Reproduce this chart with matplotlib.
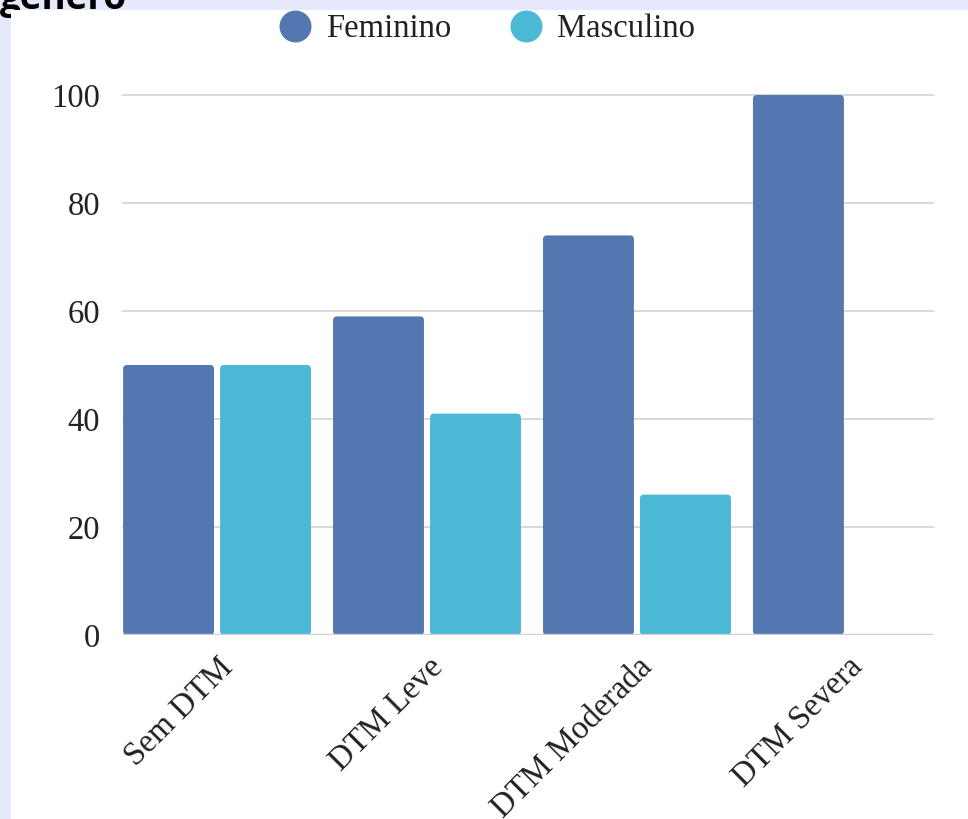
import matplotlib.pyplot as plt
import numpy as np
from matplotlib.lines import Line2D
from matplotlib.patches import Rectangle, FancyBboxPatch

categories = ['Sem DTM', 'DTM Leve', 'DTM Moderada', 'DTM Severa']
feminino = [50, 59, 74, 100]
masculino = [50, 41, 26, 0]
yticks = [0, 20, 40, 60, 80, 100]

c_fem = '#5377B0'
c_masc = '#4BB8D6'
text_color = '#222222'
fs = 23.5

plt.rcParams['font.family'] = ['Liberation Serif', 'DejaVu Serif']

W, H = 968, 819
fig = plt.figure(figsize=(W / 100, H / 100), dpi=100, facecolor='#E6E8FB')

# heading that sits behind the white card
fig.text(0.0, 1 - 9 / H, 'gênero', fontsize=26.5, fontweight='bold',
         family=['Open Sans', 'DejaVu Sans'], color='black',
         ha='left', va='baseline', zorder=0)
card = Rectangle((11 / W, 0), 1 - 11 / W, 1 - 10 / H,
                 transform=fig.transFigure, facecolor='white',
                 edgecolor='none', zorder=1)
fig.patches.append(card)

ax = fig.add_axes([123 / W, 1 - 635 / H, (933 - 123) / W, (635 - 95) / H])
ax.set_zorder(2)
ax.set_facecolor('none')

x = np.arange(len(categories))
width = 0.433
off = 0.231
xlim = (-0.448, 3.41)
ylim = (0, 100)
ax.set_xlim(*xlim)
ax.set_ylim(*ylim)

# px per data unit, used to keep the corner radius round
px_x = (933 - 123) / (xlim[1] - xlim[0])
px_y = (635 - 95) / (ylim[1] - ylim[0])
radius = 4


def rounded_bars(xs, heights, color):
    for xc, h in zip(xs, heights):
        if h <= 0:
            continue
        p = FancyBboxPatch((xc - width / 2, 0), width, h,
                           boxstyle=f'round,pad=0,rounding_size={radius / px_x}',
                           mutation_aspect=px_x / px_y,
                           facecolor=color, edgecolor='none', zorder=2)
        ax.add_patch(p)


rounded_bars(x - off, feminino, c_fem)
rounded_bars(x + off, masculino, c_masc)

ax.set_yticks(yticks)
ax.set_yticklabels([str(v) for v in yticks], fontsize=fs, color=text_color)
for v in yticks[1:]:
    ax.axhline(v, color='#d6d6d6', linewidth=1.3, zorder=1, clip_on=False)
ax.axhline(0, color='#cfcfcf', linewidth=2.4, zorder=3)

# category labels, rotated and hanging under each group
ax.set_xticks(x)
ax.set_xticklabels([])
for xi, cat in zip(x, categories):
    ax.annotate(cat, xy=(xi, 0), xycoords=('data', 'axes fraction'),
                xytext=(8, -20), textcoords='offset points',
                rotation=45, ha='right', va='center', rotation_mode='anchor',
                fontsize=fs, color=text_color, annotation_clip=False)

ax.tick_params(axis='both', length=0)
ax.tick_params(axis='y', pad=16.5)
for s in ax.spines.values():
    s.set_visible(False)

handles = [Line2D([], [], linestyle='none', marker='o', markersize=22,
                  markerfacecolor=c, markeredgecolor=c) for c in (c_fem, c_masc)]
fig.legend(handles, ['Feminino', 'Masculino'], loc='center',
           bbox_to_anchor=(487 / W, 1 - 29 / H), ncol=2, frameon=False,
           fontsize=fs, labelcolor=text_color, handlelength=1.0,
           handletextpad=0.46, columnspacing=1.78)

fig.savefig('out.png', dpi=100, facecolor=fig.get_facecolor())
